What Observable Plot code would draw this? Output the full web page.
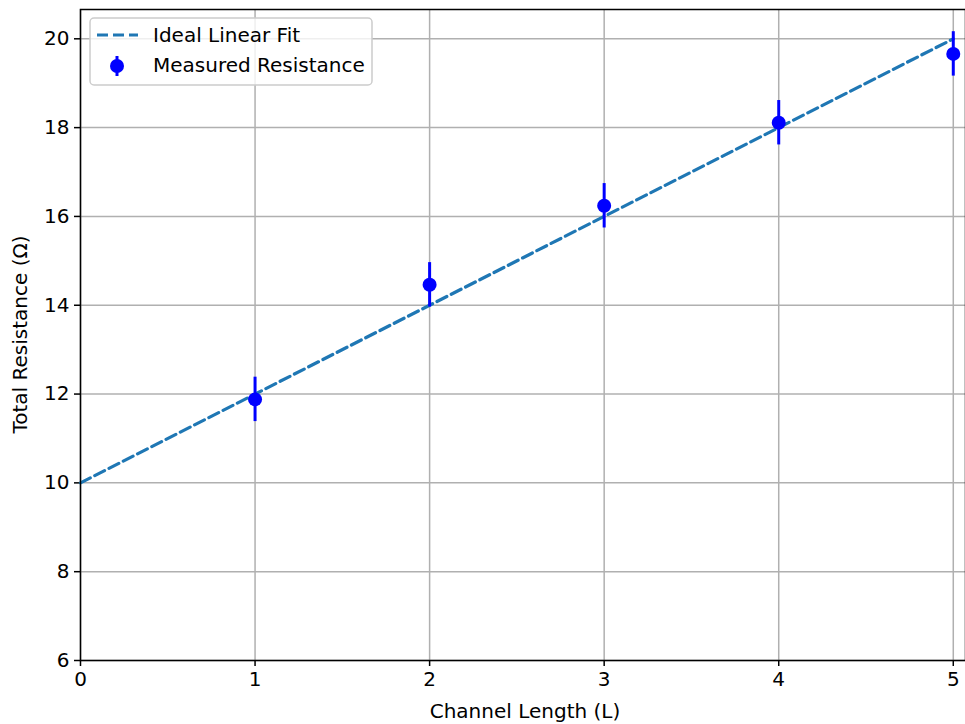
<!DOCTYPE html>
<html>
<head>
<meta charset="utf-8">
<script src="https://cdn.jsdelivr.net/npm/d3@7"></script>
<script src="https://cdn.jsdelivr.net/npm/@observablehq/plot@0.6"></script>
<style>
  html, body { margin: 0; padding: 0; background: #fff; }
  #chart { position: relative; width: 965px; height: 724px; }
</style>
</head>
<body>
<div id="chart"></div>
<script>
// Data
const lengths = [1, 2, 3, 4, 5];
const resistances = [11.88, 14.46, 16.24, 18.11, 19.66];
const errors = [0.5, 0.5, 0.5, 0.5, 0.5];
const fitX = [0, 5];
const fitY = [10, 20];
const xTicks = [0, 1, 2, 3, 4, 5];
const yTicks = [6, 8, 10, 12, 14, 16, 18, 20];

const measured = lengths.map((x, i) => ({x, y: resistances[i], lo: resistances[i] - errors[i], hi: resistances[i] + errors[i]}));
const fit = fitX.map((x, i) => ({x, y: fitY[i]}));

const font = "DejaVu Sans, sans-serif";
const plot = Plot.plot({
  width: 965,
  height: 724,
  marginLeft: 80,
  marginRight: 0,
  marginTop: 9,
  marginBottom: 64,
  style: {fontFamily: font, fontSize: "20px", color: "black", background: "white"},
  x: {domain: [0, 5.07], ticks: xTicks, label: null},
  y: {domain: [6, 20.66], ticks: yTicks, label: null},
  marks: [
    Plot.gridX(xTicks, {stroke: "#b0b0b0", strokeOpacity: 1, strokeWidth: 1.5}),
    Plot.gridY(yTicks, {stroke: "#b0b0b0", strokeOpacity: 1, strokeWidth: 1.5}),
    Plot.axisX({ticks: xTicks, tickSize: 6, tickPadding: 5, tickFormat: d => String(d), fontSize: 20, strokeWidth: 1.5, label: null}),
    Plot.axisY({ticks: yTicks, tickSize: 6, tickPadding: 5, tickFormat: d => String(d), fontSize: 20, strokeWidth: 1.5, label: null}),
    Plot.line(fit, {x: "x", y: "y", stroke: "#1f77b4", strokeWidth: 3.2, strokeDasharray: "11,5"}),
    Plot.ruleX(measured, {x: "x", y1: "lo", y2: "hi", stroke: "#0000ff", strokeWidth: 3}),
    Plot.dot(measured, {x: "x", y: "y", r: 7, fill: "#0000ff", stroke: "none"}),
    Plot.frame({stroke: "black", strokeWidth: 1.5})
  ]
});
document.getElementById("chart").appendChild(plot);

// Axis labels and legend
const svg = d3.select(plot);
svg.append("text")
  .attr("x", 525).attr("y", 718)
  .attr("text-anchor", "middle")
  .style("font-family", font).style("font-size", "20px").attr("fill", "black")
  .text("Channel Length (L)");
svg.append("text")
  .attr("transform", `translate(27, ${9 + 651 / 2}) rotate(-90)`)
  .attr("text-anchor", "middle")
  .style("font-family", font).style("font-size", "20px").attr("fill", "black")
  .text("Total Resistance (Ω)");

const lg = svg.append("g").attr("text-anchor", "start");
lg.append("rect")
  .attr("x", 90).attr("y", 18).attr("width", 282).attr("height", 67)
  .attr("rx", 4).attr("fill", "white").attr("fill-opacity", 0.8)
  .attr("stroke", "#cccccc").attr("stroke-width", 1.5);
lg.append("line")
  .attr("x1", 97).attr("x2", 138).attr("y1", 35).attr("y2", 35)
  .attr("stroke", "#1f77b4").attr("stroke-width", 3.2).attr("stroke-dasharray", "11,5");
lg.append("text")
  .attr("x", 153).attr("y", 42).attr("text-anchor", "start")
  .style("font-family", font).style("font-size", "20px").attr("fill", "black")
  .text("Ideal Linear Fit");
lg.append("line")
  .attr("x1", 117).attr("x2", 117).attr("y1", 56).attr("y2", 76)
  .attr("stroke", "#0000ff").attr("stroke-width", 3);
lg.append("circle")
  .attr("cx", 117).attr("cy", 66).attr("r", 7).attr("fill", "#0000ff");
lg.append("text")
  .attr("x", 153).attr("y", 72).attr("text-anchor", "start")
  .style("font-family", font).style("font-size", "20px").attr("fill", "black")
  .text("Measured Resistance");
</script>
</body>
</html>
